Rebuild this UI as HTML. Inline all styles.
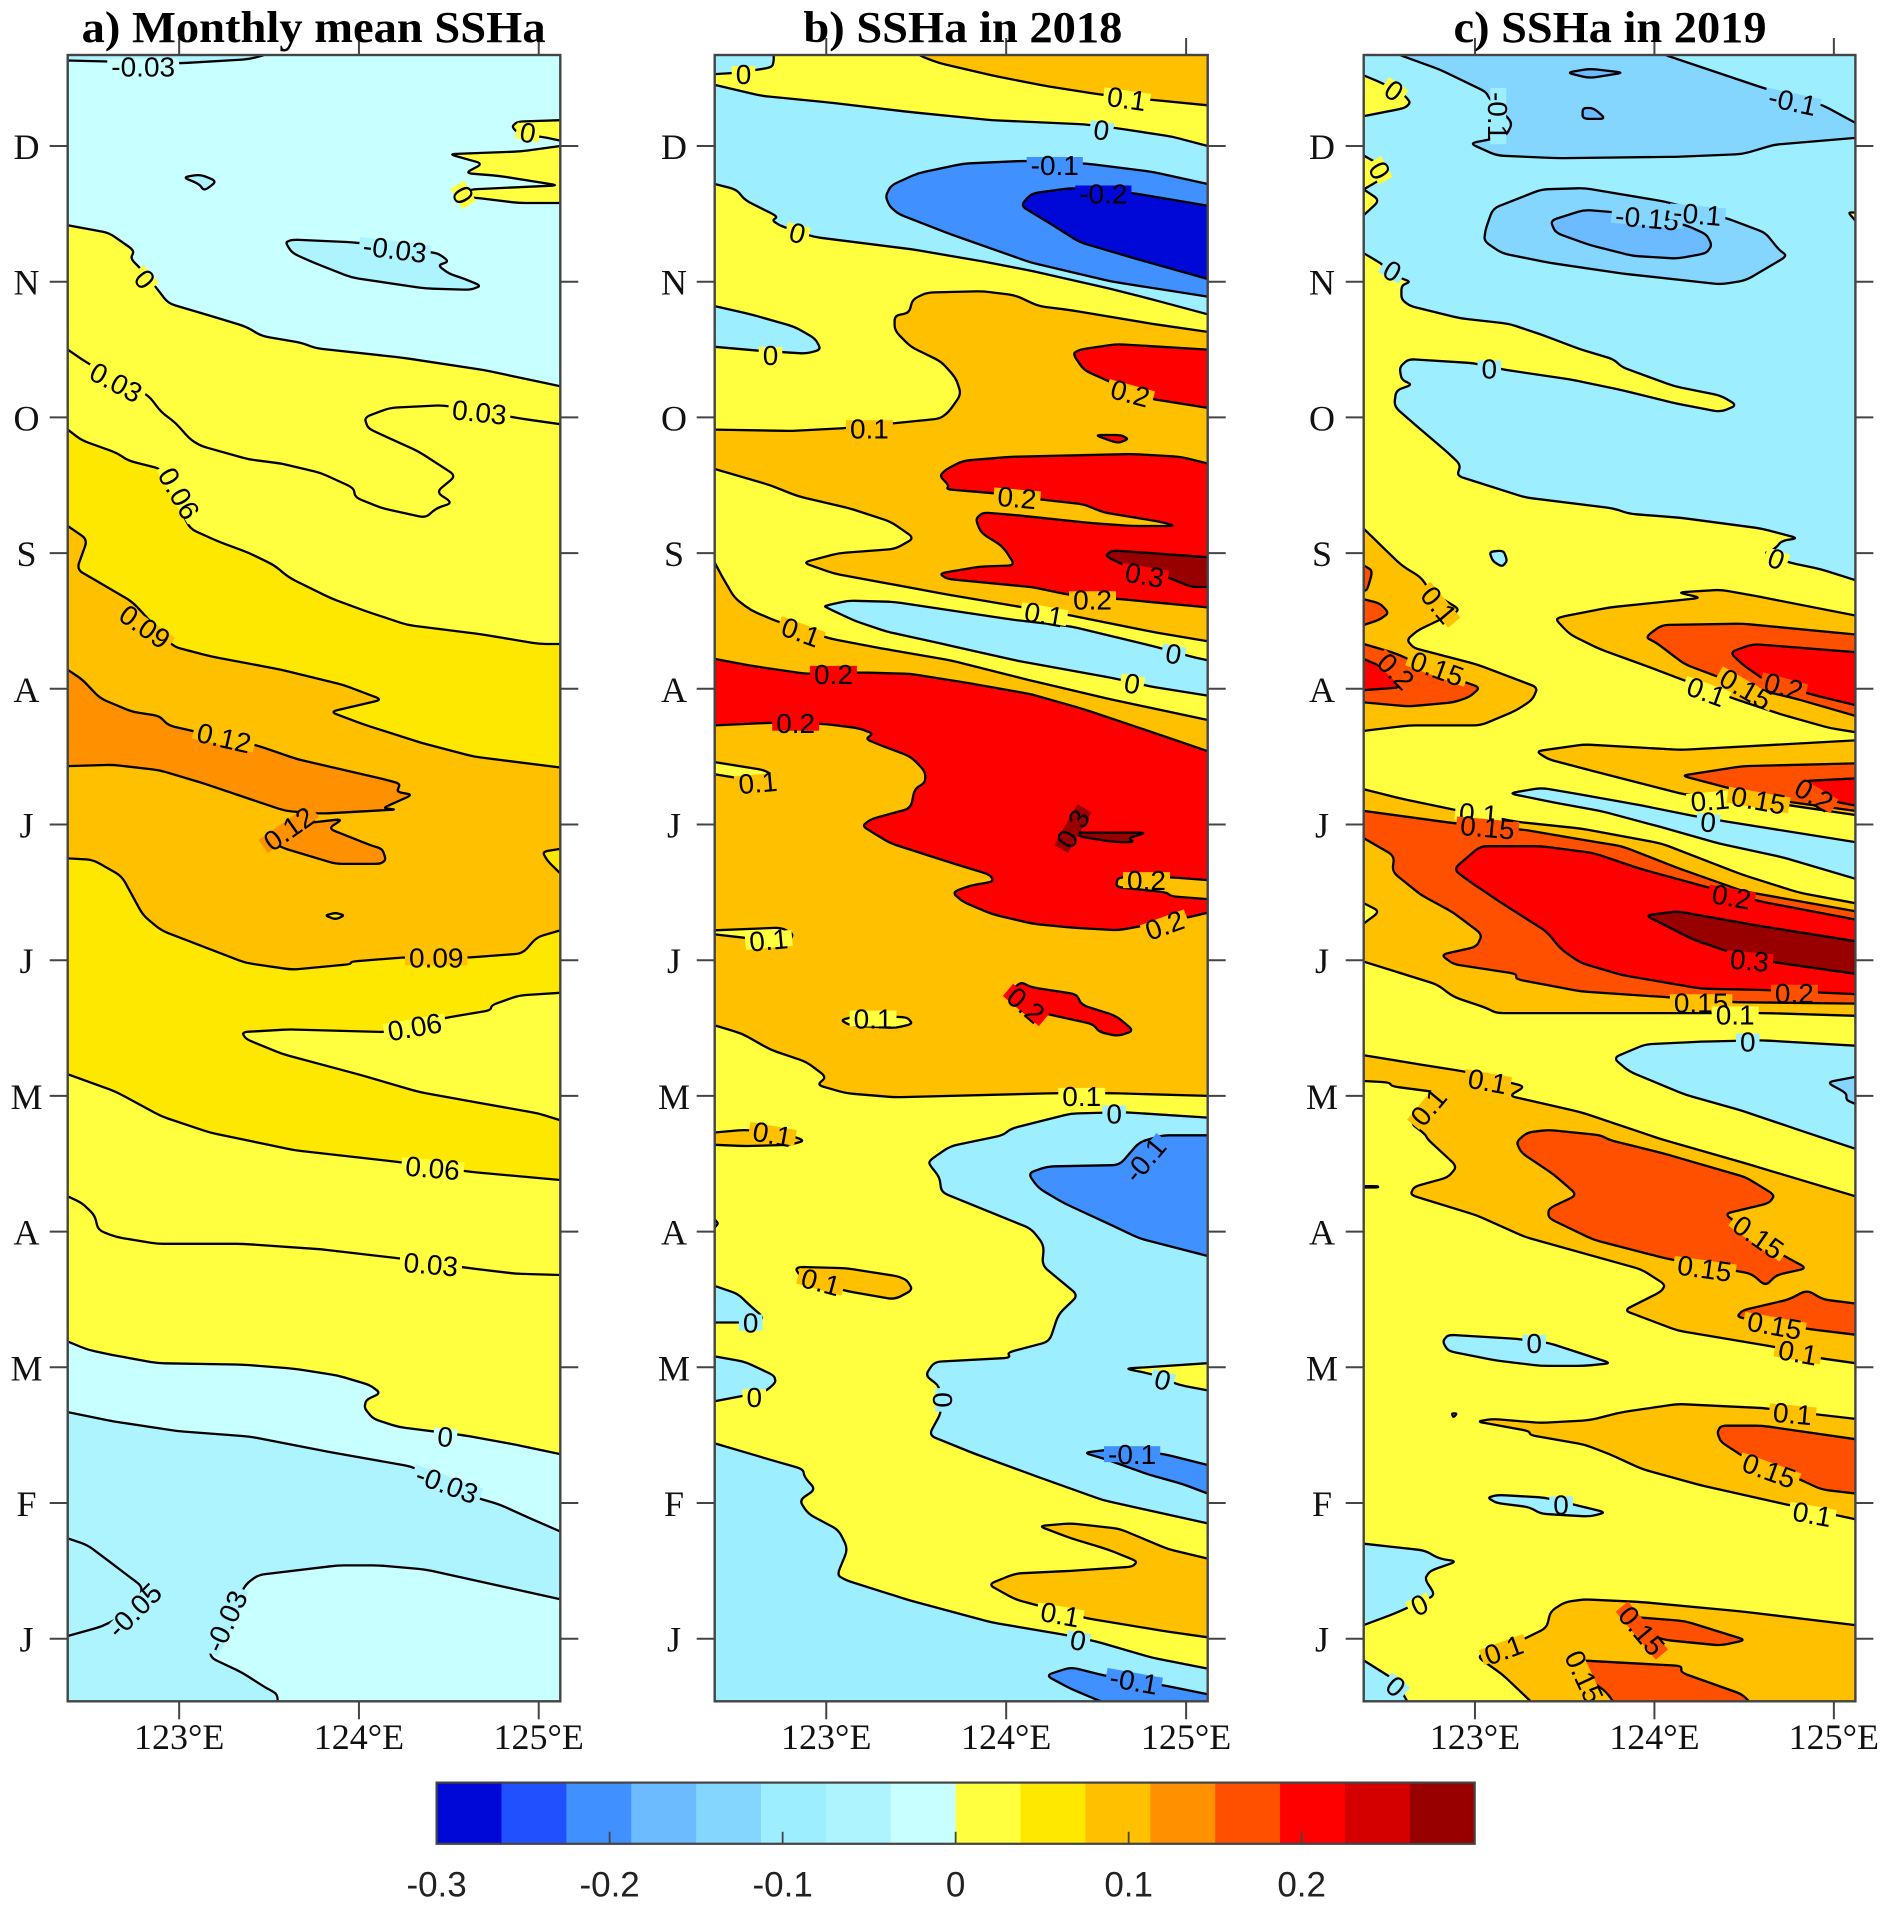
<!DOCTYPE html>
<html lang="en">
<head>
<meta charset="utf-8">
<title>SSHa Hovmoller panels</title>
<style>
html,body{margin:0;padding:0;background:#fff;}
svg{display:block;}
.title{font-family:"Liberation Serif",serif;font-weight:bold;font-size:44px;fill:#000;text-anchor:middle;}
</style>
</head>
<body>
<svg id="chart" xmlns="http://www.w3.org/2000/svg" width="1890" height="1909" viewBox="0 0 1890 1909">
<rect x="0" y="0" width="1890" height="1909" fill="#fff"/>
<g id="panels"></g>
<g id="colorbar"></g>
<text class="title" x="313.6" y="42" textLength="464" lengthAdjust="spacingAndGlyphs">a) Monthly mean SSHa</text>
<text class="title" x="962.9" y="42" textLength="319" lengthAdjust="spacingAndGlyphs">b) SSHa in 2018</text>
<text class="title" x="1610" y="42" textLength="313" lengthAdjust="spacingAndGlyphs">c) SSHa in 2019</text>
</svg>
<script>
// ---- axis data ----
const lonTicks = [123, 124, 125];
const lonTickLabels = ['123°E', '124°E', '125°E'];
const monthTicks = [1,2,3,4,5,6,7,8,9,10,11,12];
const monthLabels = ['J','F','M','A','M','J','J','A','S','O','N','D'];
const cbarTicks = [-0.3,-0.2,-0.1,0,0.1,0.2];
const cbarLabels = ['-0.3','-0.2','-0.1','0','0.1','0.2'];
const cbarMin = -0.3;
const cbarMax = 0.3;
const binColors = ['#0008d8','#2050ff','#4090ff','#6cbaff','#85d6ff','#9deeff','#aef4ff','#c8ffff','#ffff40','#ffe800','#ffc000','#ff9000','#ff5000','#ff0000','#d40000','#980000'];

// ---- panel a: SSHa value of each filled region, outlines as lon,month pairs ----
const panelAValues = [-0.02,-0.05,-0.05,-0.02,-0.05,-0.05,-0.05,0.02,0.02,0.02,0.03,0.05,0.03,0.09,0.05,0.05,0.13,0.13];
const panelAOutlines = [
[122.38,12.9,125.12,12.9,125.12,0.3,122.38,0.3],
[122.38,12.63,123.01,12.61,123.39,12.64,123.5,12.68,123.5,12.9,122.38,12.9],
[122.38,2.67,122.64,2.6,122.99,2.53,123.39,2.49,123.86,2.37,124.29,2.27,124.65,2.04,124.78,1.99,124.93,1.9,125.12,1.79,125.12,0.3,122.38,0.3],
[125.12,1.29,124.37,1.51,124.11,1.54,123.88,1.54,123.44,1.47,123.37,1.4,123.3,1.22,123.17,0.89,123.19,0.85,123.35,0.75,123.48,0.64,123.55,0.59,123.54,0.3,125.12,0.3],
[122.38,1.74,122.49,1.69,122.65,1.53,122.8,1.38,122.75,1.21,122.57,1.09,122.38,1.02],
[123.59,11.29,123.63,11.31,123.97,11.29,124.44,11.21,124.5,11.15,124.44,11.12,124.5,11.06,124.59,11.02,124.68,10.97,124.62,10.94,124.37,10.95,123.96,11.03,123.75,11.14,123.63,11.21],
[123.02,11.77,123.12,11.79,123.21,11.74,123.14,11.67,123.11,11.72],
[122.38,11.416,122.61,11.36,122.75,11.23,122.73,11.17,122.79,11.09,122.87,10.96,122.94,10.84,123.17,10.75,123.37,10.67,123.46,10.6,123.68,10.55,123.76,10.51,124.24,10.44,124.69,10.35,125.12,10.23,125.12,2.36,124.87,2.43,124.58,2.5,124.22,2.56,124.08,2.62,124.03,2.7,124.04,2.76,124.12,2.81,124.06,2.87,123.88,2.94,123.64,2.99,123.35,3.02,122.88,3.03,122.63,3.09,122.49,3.13,122.38,3.19],
[125.12,12.19,124.88,12.18,124.85,12.14,124.9,12.08,125.01,12.07,125.12,12.04],
[125.12,12,124.9,11.96,124.5,11.94,124.69,11.87,124.59,11.8,124.78,11.78,125.11,11.71,124.62,11.68,124.54,11.63,124.64,11.62,124.89,11.58,125.12,11.58],
[122.38,10.5,122.49,10.4,122.83,10.16,122.9,10.04,122.98,9.96,123.06,9.84,123.12,9.79,123.39,9.69,123.57,9.66,123.79,9.59,123.97,9.48,123.98,9.41,124.13,9.33,124.37,9.26,124.43,9.33,124.52,9.37,124.43,9.45,124.54,9.57,124.33,9.75,124.13,9.87,124.05,9.92,124.03,10,124.17,10.07,124.46,10.09,124.91,9.99,125.12,9.95,125.12,3.68,124.87,3.69,124.62,3.73,124.24,3.8,123.79,3.87,123.35,3.91,122.88,3.91,122.65,3.96,122.55,4.01,122.53,4.12,122.46,4.21,122.38,4.26],
[122.38,9.91,122.46,9.83,122.65,9.74,122.72,9.68,122.9,9.62,123.06,9.18,123.21,9.09,123.39,9,123.53,8.91,123.61,8.82,123.84,8.67,124.02,8.58,124.27,8.47,124.69,8.4,125,8.33,125.12,8.33,125.12,4.38,124.62,4.44,124.24,4.51,123.64,4.6,123.17,4.73,122.9,4.85,122.65,5.03,122.38,5.16],
[125.12,5.76,124.89,5.74,124.74,5.67,124.73,5.63,124.5,5.58,124.15,5.47,123.61,5.49,123.35,5.47,123.37,5.42,123.57,5.31,124.02,5.15,124.33,5.03,124.58,4.97,125,4.87,125.12,4.82],
[122.38,9.2,122.49,9.1,122.43,8.88,122.56,8.78,122.74,8.64,122.97,8.31,123.17,8.24,123.57,8.14,123.91,8.03,124.13,7.92,123.84,7.83,124.02,7.74,124.35,7.6,124.64,7.5,125.12,7.42,125.12,6.22,124.99,6.17,124.91,6.05,124.62,6.02,124.24,6.02,123.96,5.99,123.95,5.97,123.63,5.93,123.37,5.98,122.9,6.22,122.8,6.33,122.68,6.62,122.52,6.74,122.38,6.75],
[125.12,6.82,125.02,6.8,125.05,6.73,125.12,6.64],
[123.81,6.33,123.87,6.35,123.92,6.33,123.87,6.3],
[122.38,8.14,122.46,8.07,122.56,7.93,122.74,7.83,122.89,7.8,122.94,7.73,123.44,7.58,123.66,7.48,124.15,7.33,124.23,7.3,124.21,7.24,124.3,7.22,124.13,7.12,124.21,7.11,123.79,7.08,123.59,7.1,123.12,7.31,122.89,7.4,122.63,7.44,122.38,7.43],
[123.48,6.9,123.57,6.99,123.91,7.04,123.83,6.97,124.06,6.85,124.13,6.82,124.15,6.74,124.12,6.71,123.87,6.71,123.57,6.83]
];
const panelALabels = [
['-0.03',122.80,12.585,0],['0',124.94,12.10,10],['0',124.58,11.64,60],['-0.03',124.20,11.24,7],['0',122.81,11.02,50],['0.03',122.65,10.26,28],['0.03',124.67,10.04,6],['0.06',123.0,9.44,60],['0.09',122.81,8.46,35],['0.12',123.25,7.64,13],['0.12',123.61,6.97,-35],['0.09',124.43,6.02,0],['0.06',124.31,5.51,-10],['0.06',124.41,4.47,5],['0.03',124.40,3.76,5],['0',124.48,2.49,5],['-0.03',124.49,2.14,20],['-0.05',122.75,1.21,-45],['-0.03',123.26,1.13,-65]
];

// ---- panel b ----
const panelBValues = [0.02,-0.09,0.09,-0.09,-0.2,-0.29,-0.09,0.09,0.21,0.21,0.21,0.27,0.09,-0.09,0.21,0.27,0.02,0.02,0.02,0.21,0.09,-0.09,-0.2,0.02,-0.2,0.09,-0.09,-0.09,-0.09,-0.09,-0.2,0.09];
const panelBOutlines = [
[122.38,12.9,125.12,12.9,125.12,0.3,122.38,0.3],
[122.38,12.53,122.51,12.54,122.7,12.58,122.71,12.64,122.69,12.9,122.38,12.9],
[123.51,12.67,123.63,12.61,123.92,12.52,124.23,12.44,124.52,12.38,124.81,12.34,125.12,12.3,125.12,12.9,123.4,12.9],
[122.38,12.45,122.64,12.37,123.02,12.32,123.47,12.25,123.92,12.19,124.43,12.16,124.62,12.13,124.92,12.07,125.12,12,125.12,10.76,124.81,10.87,124.54,10.96,124.14,11.08,123.87,11.15,123.47,11.24,122.93,11.33,122.75,11.41,122.7,11.45,122.73,11.48,122.55,11.6,122.5,11.68,122.38,11.72],
[125.12,11.72,124.81,11.81,124.45,11.87,124.1,11.89,123.76,11.87,123.51,11.8,123.36,11.71,123.33,11.63,123.35,11.56,123.4,11.5,123.69,11.35,124.14,11.14,124.59,11,125.12,10.89],
[125.12,11.56,124.72,11.65,124.36,11.69,124.14,11.65,124.08,11.56,124.23,11.44,124.41,11.29,124.77,11.15,125.12,11.02],
[122.38,10.82,122.58,10.76,122.82,10.67,122.94,10.58,122.97,10.5,122.89,10.47,122.64,10.49,122.38,10.52],
[125.12,10.63,124.81,10.69,124.36,10.79,124.18,10.82,124.05,10.9,123.87,10.93,123.56,10.92,123.48,10.87,123.46,10.77,123.38,10.75,123.38,10.64,123.47,10.52,123.64,10.41,123.72,10.29,123.75,10.17,123.68,10.04,123.63,9.99,123.4,9.96,123.09,9.92,122.8,9.9,122.38,9.91,122.38,9.62,122.69,9.5,122.84,9.42,123.13,9.33,123.36,9.23,123.49,9.11,123.38,9.03,123.07,9,122.87,8.93,123.04,8.85,123.65,8.7,124.05,8.61,124.36,8.54,124.81,8.42,125.12,8.35],
[125.12,10.5,124.61,10.54,124.41,10.5,124.37,10.47,124.43,10.35,124.58,10.26,124.79,10.14,125.12,10.07],
[124.49,9.87,124.64,9.87,124.68,9.84,124.62,9.81],
[125.12,9.66,124.97,9.71,124.7,9.73,124.03,9.71,123.76,9.68,123.67,9.62,123.63,9.57,123.68,9.5,123.67,9.47,123.94,9.44,124.16,9.4,124.43,9.36,124.54,9.3,124.86,9.23,124.94,9.2,124.7,9.2,124.48,9.22,124.05,9.28,123.87,9.3,123.83,9.25,123.86,9.15,123.98,9.05,124.05,8.91,123.85,8.9,123.63,8.85,123.67,8.81,124.14,8.75,124.36,8.69,124.64,8.66,125.12,8.6],
[125.12,8.97,124.59,9.02,124.55,8.98,124.67,8.9,124.9,8.82,125.03,8.75,125.12,8.75],
[122.38,8.93,122.42,8.83,122.49,8.67,122.58,8.58,122.72,8.5,123.02,8.37,123.34,8.29,123.69,8.21,124.14,8.06,124.59,7.92,125.12,7.77,125.12,5,124.59,5.02,124.27,5.02,123.38,4.99,123.11,5.02,122.95,5.08,123,5.14,122.89,5.25,122.69,5.34,122.53,5.46,122.38,5.52],
[122.99,8.61,123.12,8.65,123.38,8.64,124.03,8.51,124.36,8.46,124.83,8.31,125.02,8.24,125.12,8.21,125.12,7.95,124.79,8.02,124.59,8.08,124.05,8.21,123.65,8.33,123.34,8.42,123.16,8.5,123,8.6],
[122.38,8.22,122.58,8.17,122.89,8.11,123.2,8.12,123.47,8.11,123.8,8.04,124.14,7.96,124.43,7.85,124.7,7.73,124.9,7.64,125.12,7.54,125.12,6.59,124.92,6.61,124.62,6.61,124.61,6.54,124.89,6.5,124.92,6.47,125.12,6.45,125.12,6.35,124.99,6.31,124.62,6.22,124.36,6.24,124.14,6.27,123.92,6.34,123.76,6.43,123.7,6.5,123.8,6.55,123.93,6.58,123.91,6.63,123.69,6.72,123.36,6.86,123.27,6.93,123.2,6.99,123.25,7.04,123.47,7.12,123.49,7.26,123.55,7.31,123.55,7.39,123.47,7.5,123.29,7.59,123.22,7.63,123.26,7.67,123.18,7.71,123,7.74,122.69,7.75,122.38,7.73],
[124.32,6.99,124.41,7,124.4,6.94,124.78,6.94,124.68,6.9,124.71,6.87,124.61,6.87,124.41,6.91],
[122.38,7.46,122.66,7.4,122.72,7.34,122.69,7.29,122.52,7.34,122.38,7.37],
[122.38,6.22,122.75,6.24,122.82,6.19,122.78,6.12,122.58,6.16,122.38,6.19],
[123.08,5.56,123.18,5.59,123.45,5.58,123.48,5.53,123.38,5.5,123.13,5.52],
[124.02,5.76,124.08,5.84,124.14,5.8,124.39,5.75,124.42,5.67,124.61,5.59,124.71,5.48,124.62,5.44,124.52,5.47,124.48,5.53,124.27,5.59,124.03,5.67],
[122.38,4.73,122.55,4.75,122.8,4.71,122.88,4.67,122.8,4.64,122.55,4.63,122.38,4.64],
[125.12,4.84,124.65,4.88,124.36,4.87,124.03,4.76,123.98,4.71,123.69,4.63,123.58,4.53,123.57,4.5,123.63,4.4,123.64,4.29,124.14,4.02,124.21,3.9,124.2,3.75,124.4,3.53,124.29,3.39,124.24,3.19,124.01,3.11,124.02,3.07,123.6,3.04,123.55,2.94,123.63,2.86,123.64,2.67,123.57,2.5,123.83,2.36,124.14,2.21,124.54,2.02,125.12,1.85],
[125.12,4.71,124.87,4.71,124.74,4.66,124.63,4.49,124.23,4.48,124.12,4.43,124.18,4.32,124.32,4.21,124.63,4.02,124.74,3.95,125.12,3.82],
[124.66,2.99,125.12,3.03,125.12,2.83,124.96,2.87,124.81,2.95],
[124.43,2.37,124.61,2.4,124.88,2.36,125.12,2.28,125.12,2.07,124.98,2.14,124.79,2.21,124.56,2.32],
[122.83,3.72,122.85,3.74,123.11,3.73,123.4,3.67,123.45,3.64,123.48,3.57,123.38,3.5,123.12,3.56,122.87,3.65],
[122.38,3.6,122.51,3.54,122.58,3.45,122.65,3.37,122.62,3.33,122.38,3.33],
[122.38,3.08,122.55,3.04,122.71,2.94,122.72,2.89,122.66,2.82,122.38,2.75],
[122.38,2.44,122.66,2.33,122.87,2.25,122.88,2.19,122.94,2.1,122.85,2.02,122.9,1.92,123.07,1.8,123.12,1.66,123.06,1.47,123.11,1.43,123.47,1.28,123.92,1.12,124.32,1.03,124.5,0.98,124.81,0.86,125.12,0.78,125.12,0.3,122.38,0.3],
[122.38,4.09,122.40,4.06,122.38,4.03],
[124.22,0.73,124.36,0.79,124.54,0.73,124.9,0.65,125.12,0.59,125.12,0.47,124.54,0.53,124.36,0.63],
[124.18,1.83,124.36,1.85,124.63,1.81,124.9,1.66,125.12,1.59,125.12,1.01,124.86,1.06,124.45,1.15,124.16,1.25,124.05,1.29,123.9,1.4,124.05,1.48,124.36,1.5,124.7,1.53,124.73,1.57,124.56,1.66,124.36,1.74]
];
const panelBLabels = [
['0',122.54,12.53,0],['0.1',124.67,12.35,8],['0',124.53,12.12,8],['-0.1',124.27,11.86,0],['-0.2',124.54,11.65,0],['0',122.84,11.36,15],['0',122.69,10.46,0],['0.2',124.69,10.18,15],['0.1',123.24,9.92,0],['0.2',124.06,9.41,5],['0.3',124.77,8.84,10],['0.2',124.48,8.66,0],['0.1',124.21,8.55,10],['0.1',122.86,8.42,20],['0',124.93,8.26,10],['0',124.70,8.04,10],['0.2',123.04,8.11,0],['0.2',122.83,7.75,0],['0.1',122.62,7.31,-5],['0.3',124.37,6.97,-60],['0.2',124.78,6.59,0],['0.2',124.88,6.26,-20],['0.1',122.68,6.15,-5],['0.2',124.11,5.67,40],['0.1',123.26,5.57,0],['0.1',124.42,5,0],['0',124.60,4.87,0],['0.1',122.70,4.72,10],['-0.1',124.77,4.53,-50],['0.1',122.97,3.63,15],['0',122.58,3.33,0],['0',122.6,2.78,0],['0',123.65,2.76,90],['0',124.87,2.91,15],['-0.1',124.70,2.36,0],['0.1',124.30,1.18,10],['0',124.40,0.99,10],['-0.1',124.71,0.69,10]
];

// ---- panel c ----
const panelCValues = [0.02,-0.09,0.02,0.02,0.02,-0.12,-0.16,-0.16,-0.12,-0.16,-0.09,0.09,0.17,0.17,0.17,0.21,0.09,0.17,0.21,0.09,0.17,0.21,-0.09,0.09,0.17,0.21,0.27,0.02,-0.09,-0.12,0.09,0.17,0.17,-0.09,-0.09,0.09,0.17,-0.09,-0.09,0.09,0.17,0.17,0.02,0.02];
const panelCOutlines = [
[122.38,12.9,125.12,12.9,125.12,0.3,122.38,0.3],
[122.38,12.9,122.38,11.21,122.47,11.14,122.58,11.03,122.64,11,122.59,10.97,122.59,10.87,122.64,10.82,122.92,10.73,123.19,10.69,123.37,10.61,123.59,10.5,123.77,10.43,123.82,10.37,124.11,10.23,124.37,10.16,124.46,10.09,124.37,10.04,124.13,10.1,123.82,10.2,123.53,10.28,123.17,10.35,122.99,10.4,122.63,10.43,122.58,10.37,122.59,10.28,122.65,10.24,122.56,10.2,122.55,10.08,122.68,9.93,122.85,9.74,122.92,9.65,122.9,9.57,123.28,9.41,123.77,9.33,123.86,9.29,124.15,9.26,124.6,9.18,124.8,9.11,124.71,9.09,124.67,9.03,124.61,9,124.75,8.93,124.93,8.88,125.12,8.8,125.12,12.9],
[122.38,12.52,122.49,12.46,122.61,12.37,122.64,12.32,122.61,12.28,122.38,12.22],
[122.38,11.93,122.5,11.84,122.52,11.8,122.47,11.75,122.38,11.68,122.47,11.6,122.38,11.49],
[125.08,11.51,125.12,11.51,125.12,11.45],
[122.5,12.9,122.56,12.68,122.81,12.56,123.06,12.4,123.08,12.35,123.21,12.17,123.17,12.07,122.97,12.02,123.12,11.93,123.46,11.91,124.11,11.92,124.49,11.94,124.67,12.01,125.12,12.06,125.12,12.17,124.94,12.3,124.6,12.43,124.04,12.68,123.9,12.9],
[123.51,12.54,123.64,12.57,123.83,12.54,123.64,12.5],
[123.6,12.28,123.66,12.28,123.73,12.2,123.6,12.2],
[123.06,11.39,123.1,11.54,123.37,11.68,123.61,11.69,124.06,11.59,124.42,11.46,124.62,11.36,124.69,11.24,124.74,11.19,124.51,11.01,124.37,10.98,123.82,11.06,123.41,11.14,123.15,11.21,123.05,11.3],
[123.42,11.45,123.61,11.53,123.79,11.51,124.17,11.42,124.29,11.35,124.32,11.27,124.29,11.21,124.13,11.17,123.88,11.19,123.64,11.27,123.45,11.36],
[123.08,9.01,123.16,9.02,123.18,8.94,123.15,8.9,123.1,8.94],
[122.38,9.18,122.45,9.09,122.59,8.91,122.7,8.82,122.75,8.72,122.92,8.58,122.79,8.5,122.68,8.43,122.62,8.36,122.66,8.3,123.01,8.18,123.35,8.01,123.32,7.92,123.23,7.84,123.03,7.73,122.63,7.73,122.38,7.69],
[122.38,8.91,122.43,8.87,122.4,8.73,122.38,8.72],
[122.38,8.66,122.47,8.63,122.52,8.56,122.47,8.51,122.38,8.47],
[122.38,8.33,122.56,8.26,122.81,8.11,123.03,8.01,122.97,7.94,122.88,7.9,122.63,7.87,122.38,7.9],
[122.38,8.22,122.52,8.14,122.59,8.01,122.38,7.99],
[123.45,8.51,123.48,8.53,123.75,8.6,124.26,8.67,124.13,8.71,124.37,8.73,124.58,8.68,125.12,8.54,125.12,7.68,124.98,7.71,124.71,7.81,124.46,7.92,124.15,8.07,123.93,8.18,123.7,8.29,123.53,8.4],
[123.95,8.38,124.04,8.47,124.49,8.48,125.12,8.4,125.12,7.8,124.78,7.93,124.49,8.02,124.17,8.18,124.01,8.34],
[124.42,8.27,124.55,8.33,125.12,8.27,125.12,7.88,124.87,7.96,124.62,8.06,124.49,8.18],
[123.34,7.54,123.61,7.59,124.15,7.55,125.12,7.62,125.12,7.07,124.71,7.15,124.17,7.22,123.7,7.38,123.41,7.48],
[124.15,7.36,124.49,7.43,125.12,7.45,125.12,7.1,124.73,7.17,124.44,7.26],
[124.83,7.32,125.12,7.34,125.12,7.14,125,7.17,124.87,7.23],
[123.19,7.23,123.37,7.27,123.55,7.23,123.93,7.14,124.23,7.06,124.41,7.02,125.12,6.87,125.12,6.6,124.71,6.76,124.36,6.86,124.04,6.98,123.7,7.1,123.41,7.17],
[122.38,7.26,122.59,7.19,122.88,7.11,123.23,7.02,123.59,6.97,124.04,6.86,124.49,6.63,124.8,6.5,125.12,6.42,125.12,5.59,124.62,5.61,123.12,5.61,123.06,5.65,122.88,5.73,122.79,5.82,122.38,5.99],
[122.38,7.1,122.88,7.01,123.28,6.96,123.59,6.89,123.82,6.84,124.13,6.68,124.49,6.51,125.12,6.36,125.12,5.68,124.46,5.69,124.04,5.73,123.59,5.77,123.23,5.86,123.23,5.9,122.88,5.97,122.81,6.04,123.01,6.1,123.04,6.19,122.88,6.35,122.7,6.48,122.54,6.65,122.55,6.77,122.38,6.9],
[122.88,6.67,123.03,6.84,123.37,6.84,123.66,6.79,123.93,6.67,124.29,6.54,124.6,6.43,125.12,6.3,125.12,5.75,124.62,5.78,124.26,5.79,123.82,5.89,123.59,5.98,123.48,6.08,123.4,6.21,123.15,6.42,122.97,6.58],
[123.95,6.33,124.13,6.36,124.6,6.25,125.12,6.14,125.12,5.9,124.69,5.98,124.44,6.05,124.22,6.15,124.04,6.27],
[122.38,6.42,122.47,6.36,122.38,6.27],
[125.12,5.37,124.6,5.41,124.26,5.4,123.95,5.38,123.77,5.28,123.86,5.18,124.17,5.01,124.49,4.89,124.78,4.76,125.12,4.61],
[125.12,5.14,124.96,5.1,125.07,5.02,125.07,4.97,125.12,4.94],
[122.38,5.3,122.7,5.23,122.94,5.18,123.28,5.07,123.19,5,123.59,4.88,124.04,4.68,124.49,4.51,125.12,4.26,125.12,3.03,124.91,3.07,124.67,3.15,124.13,3.27,123.83,3.42,124.04,3.56,124.06,3.61,123.93,3.72,123.28,3.96,123.01,4.12,122.64,4.27,122.66,4.33,122.85,4.4,122.9,4.48,122.74,4.675,122.72,4.72,122.64,4.8,122.7,4.92,122.83,5.02,122.54,5.07,122.52,5.1,122.38,5.11],
[123.29,4.73,123.41,4.75,123.7,4.71,123.75,4.675,124.04,4.58,124.51,4.4,124.67,4.27,124.64,4.21,124.39,4.13,124.71,3.83,124.85,3.73,124.68,3.68,124.62,3.6,124.54,3.69,124.07,3.8,123.66,3.94,123.41,4.1,123.41,4.17,123.57,4.27,123.44,4.42,123.26,4.58,123.23,4.66],
[124.46,3.37,124.49,3.42,124.75,3.5,124.85,3.57,124.94,3.5,125.12,3.47,125.12,3.24,124.87,3.28,124.6,3.34],
[122.82,3.19,122.85,3.24,123.23,3.21,123.41,3.18,123.76,3.03,123.61,3.01,123.37,3.01,123.12,3.05,122.85,3.12],
[123.07,2.04,123.13,2.06,123.39,2.04,123.73,1.93,123.64,1.9,123.37,1.92,123.3,1.97,123.12,2],
[123.01,2.6,123.1,2.62,123.37,2.59,123.64,2.61,123.82,2.67,124.13,2.73,124.6,2.7,125.12,2.62,125.12,1.88,124.73,1.99,124.26,2.13,123.93,2.25,123.75,2.36,123.61,2.43,123.31,2.5,123.3,2.53],
[124.35,2.52,124.37,2.57,124.6,2.57,125.12,2.47,125.12,2.07,124.93,2.1,124.8,2.18,124.51,2.33,124.37,2.45],
[122.38,1.7,122.72,1.65,122.8,1.59,122.9,1.57,122.75,1.5,122.72,1.44,122.78,1.32,122.56,1.19,122.38,1.1],
[122.38,0.84,122.56,0.69,122.72,0.3,122.38,0.3],
[125.12,1.1,124.49,1.2,123.93,1.27,123.61,1.29,123.5,1.27,123.42,1.2,123.4,1.08,123.23,0.97,123.01,0.87,123.15,0.74,123.5,0.3,125.12,0.3],
[123.88,1.16,124.17,1.13,124.51,0.99,124.37,0.95,124.06,0.99,123.86,1.08],
[123.54,0.79,123.59,0.84,124.15,0.8,124.15,0.75,124.49,0.59,124.7,0.3,123.9,0.3,123.73,0.61],
[122.38,4.335,122.46,4.335,122.46,4.325,122.38,4.325],
[122.87,2.66,122.90,2.66,122.88,2.63]
];
const panelCLabels = [
['0',122.55,12.41,35],['-0.1',123.13,12.22,90],['-0.1',124.77,12.33,12],['0',122.47,11.82,60],['-0.15',123.96,11.47,5],['-0.1',124.24,11.50,5],['0',122.54,11.08,30],['0',123.08,10.36,0],['0',124.68,8.96,20],['0.1',122.80,8.62,50],['0.15',122.79,8.15,20],['0.2',122.56,8.13,45],['0.1',124.29,7.98,20],['0.15',124.51,8.0,30],['0.2',124.72,8.02,15],['0.1',124.31,7.18,-5],['0.15',124.58,7.18,10],['0.2',124.89,7.22,30],['0.1',123.02,7.08,5],['0.15',123.07,6.98,5],['0',124.30,7.02,5],['0.2',124.43,6.47,10],['0.3',124.53,6.0,5],['0.2',124.78,5.76,0],['0.15',124.26,5.69,0],['0.1',124.45,5.6,0],['0',124.52,5.4,0],['0.1',123.07,5.11,10],['0.1',122.74,4.92,-50],['0.15',124.58,3.96,35],['0.15',124.28,3.73,8],['0.15',124.67,3.31,10],['0.1',124.80,3.11,10],['0.1',124.77,2.66,5],['0.15',124.64,2.24,20],['0.1',124.88,1.92,10],['0',123.48,1.99,0],['0',123.33,3.18,0],['0',122.69,1.25,-25],['0.15',123.93,1.06,50],['0.15',123.61,0.72,65],['0.1',123.16,0.92,-20],['0',122.56,0.65,40]
];

// ---- axes ----
const NS = 'http://www.w3.org/2000/svg';
const lonMin = 122.38, lonMax = 125.12;
const plotTop = 55, plotBottom = 1701.3;
const panelLayout = [
  {key:'a', left:67.7, right:560.3, labelX:26.5, values:panelAValues, outlines:panelAOutlines, labels:panelALabels},
  {key:'b', left:714.7, right:1207.7, labelX:674, values:panelBValues, outlines:panelBOutlines, labels:panelBLabels},
  {key:'c', left:1363.7, right:1855.4, labelX:1322, values:panelCValues, outlines:panelCOutlines, labels:panelCLabels}
];
function monthY(m){ return 1638.7 - (m - 1) * 135.7; }
function lonX(p, lon){ return p.left + (lon - lonMin) * (p.right - p.left) / (lonMax - lonMin); }
function edgeSide(lon){ return lon <= lonMin + 0.005 ? -1 : (lon >= lonMax - 0.005 ? 1 : 0); }
function binColor(z){
  const n = binColors.length;
  let i = Math.floor((z - cbarMin) / ((cbarMax - cbarMin) / n));
  i = Math.max(0, Math.min(n - 1, i));
  return binColors[i];
}
function make(tag, attrs, parent){
  const el = document.createElementNS(NS, tag);
  for (const k in attrs) el.setAttribute(k, attrs[k]);
  parent.appendChild(el);
  return el;
}
function inside(pts, lon, m){
  let hit = false;
  const n = pts.length / 2;
  for (let i = 0, j = n - 1; i < n; j = i++){
    const xi = pts[2*i], yi = pts[2*i+1], xj = pts[2*j], yj = pts[2*j+1];
    if ((yi > m) !== (yj > m) && lon < (xj - xi) * (m - yi) / (yj - yi) + xi) hit = !hit;
  }
  return hit;
}
function localColor(p, lon, m){
  for (let i = p.outlines.length - 1; i >= 0; i--){
    if (inside(p.outlines[i], lon, m)) return binColor(p.values[i]);
  }
  return '#ffffff';
}
// Approximate rendered width of a contour label at the label font size.
function labelWidth(s, size){
  let w = 0;
  for (const ch of s) w += ch === '.' ? 0.278 : (ch === '-' ? 0.333 : 0.556);
  return w * size;
}
// Converts a lon,month outline into a slightly rounded path; points on the frame stay sharp
// and continue outside the clip so the contour meets the frame at its true height.
function outlinePath(p, pts){
  const n = pts.length / 2;
  const verts = [];
  for (let i = 0; i < n; i++){
    const lon = pts[2*i], m = pts[2*i+1];
    const side = edgeSide(lon);
    const y = monthY(m);
    if (side === 0){
      verts.push({x:lonX(p, lon), y:y, sharp:false});
    } else {
      const prevSide = edgeSide(pts[2*((i + n - 1) % n)]);
      const nextSide = edgeSide(pts[2*((i + 1) % n)]);
      const outer = lonX(p, lon + side * 0.15);
      if (prevSide !== side) verts.push({x:lonX(p, lon), y:y, sharp:true});
      verts.push({x:outer, y:y, sharp:true});
      if (nextSide !== side) verts.push({x:lonX(p, lon), y:y, sharp:true});
    }
  }
  const f = function(v){ return v.toFixed(1); };
  let d = '';
  verts.forEach(function(v, i){
    const cmd = i ? 'L' : 'M';
    if (v.sharp){
      d += cmd + f(v.x) + ' ' + f(v.y);
      return;
    }
    const a = verts[(i + verts.length - 1) % verts.length];
    const b = verts[(i + 1) % verts.length];
    const la = Math.hypot(a.x - v.x, a.y - v.y) || 1;
    const lb = Math.hypot(b.x - v.x, b.y - v.y) || 1;
    const ra = Math.min(0.35 * la, 7), rb = Math.min(0.35 * lb, 7);
    const ax = v.x + (a.x - v.x) * ra / la, ay = v.y + (a.y - v.y) * ra / la;
    const bx = v.x + (b.x - v.x) * rb / lb, by = v.y + (b.y - v.y) * rb / lb;
    d += cmd + f(ax) + ' ' + f(ay) + 'Q' + f(v.x) + ' ' + f(v.y) + ' ' + f(bx) + ' ' + f(by);
  });
  return d + 'Z';
}

const panelsRoot = document.getElementById('panels');
panelLayout.forEach(function(p){
  const g = make('g', {}, panelsRoot);
  
  

  const defs = make('defs', {}, g);
  const clip = make('clipPath', {id:'clip-' + p.key}, defs);
  make('rect', {x:p.left, y:plotTop, width:p.right - p.left, height:plotBottom - plotTop}, clip);

  const field = make('g', {'clip-path':'url(#clip-' + p.key + ')'}, g);
  
  

  p.outlines.forEach(function(pts, idx){
    const path = make('path', {d:outlinePath(p, pts), fill:binColor(p.values[idx]), stroke:'#000', 'stroke-width':2.3, 'stroke-linejoin':'round'}, field);
    
    
  });

  const labelSize = 28;
  p.labels.forEach(function(row){
    const x = lonX(p, row[1]), y = monthY(row[2]);
    const rot = 'rotate(' + row[3] + ' ' + x.toFixed(1) + ' ' + y.toFixed(1) + ')';
    const w = labelWidth(row[0], labelSize) + 8;
    const gap = make('rect', {x:x - w / 2, y:y - 8, width:w, height:16, fill:localColor(p, row[1], row[2]), transform:rot}, field);
    
    
    const t = make('text', {
      x:x, y:y + labelSize * 0.36,
      transform:rot,
      'text-anchor':'middle',
      'font-family':'"Liberation Sans",sans-serif', 'font-size':labelSize, fill:'#000'
    }, field);
    t.textContent = row[0];
    
    
  });

  const frame = make('rect', {x:p.left, y:plotTop, width:p.right - p.left, height:plotBottom - plotTop, fill:'none', stroke:'#444', 'stroke-width':2.4}, g);
  
  

  lonTicks.forEach(function(lon, i){
    const x = lonX(p, lon);
    const tb = make('line', {x1:x, x2:x, y1:plotBottom, y2:plotBottom + 18, stroke:'#444', 'stroke-width':2}, g);
    
    
    const tt = make('line', {x1:x, x2:x, y1:plotTop, y2:plotTop - 17, stroke:'#444', 'stroke-width':2}, g);
    
    
    const lab = make('text', {x:x, y:1749, 'text-anchor':'middle', 'font-family':'"Liberation Serif",serif', 'font-size':36, fill:'#111'}, g);
    lab.textContent = lonTickLabels[i];
    
    
  });

  monthTicks.forEach(function(m, i){
    const y = monthY(m);
    const tl = make('line', {x1:p.left - 18, x2:p.left, y1:y, y2:y, stroke:'#444', 'stroke-width':2}, g);
    
    
    const tr = make('line', {x1:p.right, x2:p.right + 18, y1:y, y2:y, stroke:'#444', 'stroke-width':2}, g);
    
    
    const lab = make('text', {x:p.labelX, y:y + 13, 'text-anchor':'middle', 'font-family':'"Liberation Serif",serif', 'font-size':36, fill:'#111'}, g);
    lab.textContent = monthLabels[i];
    
    
  });
});

// ---- colorbar ----
const cbarRoot = document.getElementById('colorbar');
const cbarLeft = 436.6, cbarRight = 1474.7, cbarTop = 1782.6, cbarBottom = 1843.8;
function cbarX(v){ return cbarLeft + (v - cbarMin) * (cbarRight - cbarLeft) / (cbarMax - cbarMin); }
const binStep = (cbarMax - cbarMin) / binColors.length;
binColors.forEach(function(c, i){
  const x0 = cbarX(cbarMin + i * binStep), x1 = cbarX(cbarMin + (i + 1) * binStep);
  const r = make('rect', {x:x0, y:cbarTop, width:x1 - x0 + 0.4, height:cbarBottom - cbarTop, fill:c}, cbarRoot);
  
  
});
const cbarFrame = make('rect', {x:cbarLeft, y:cbarTop, width:cbarRight - cbarLeft, height:cbarBottom - cbarTop, fill:'none', stroke:'#444', 'stroke-width':2.2}, cbarRoot);


cbarTicks.forEach(function(v, i){
  const x = cbarX(v);
  if (i > 0){
    const t = make('line', {x1:x, x2:x, y1:cbarBottom, y2:cbarBottom - 12, stroke:'#444', 'stroke-width':1.8}, cbarRoot);
    
    
  }
  const lab = make('text', {x:x, y:1896.7, 'text-anchor':'middle', 'font-family':'"Liberation Sans",sans-serif', 'font-size':35, fill:'#222'}, cbarRoot);
  lab.textContent = cbarLabels[i];
  
  
});
</script>
</body>
</html>
